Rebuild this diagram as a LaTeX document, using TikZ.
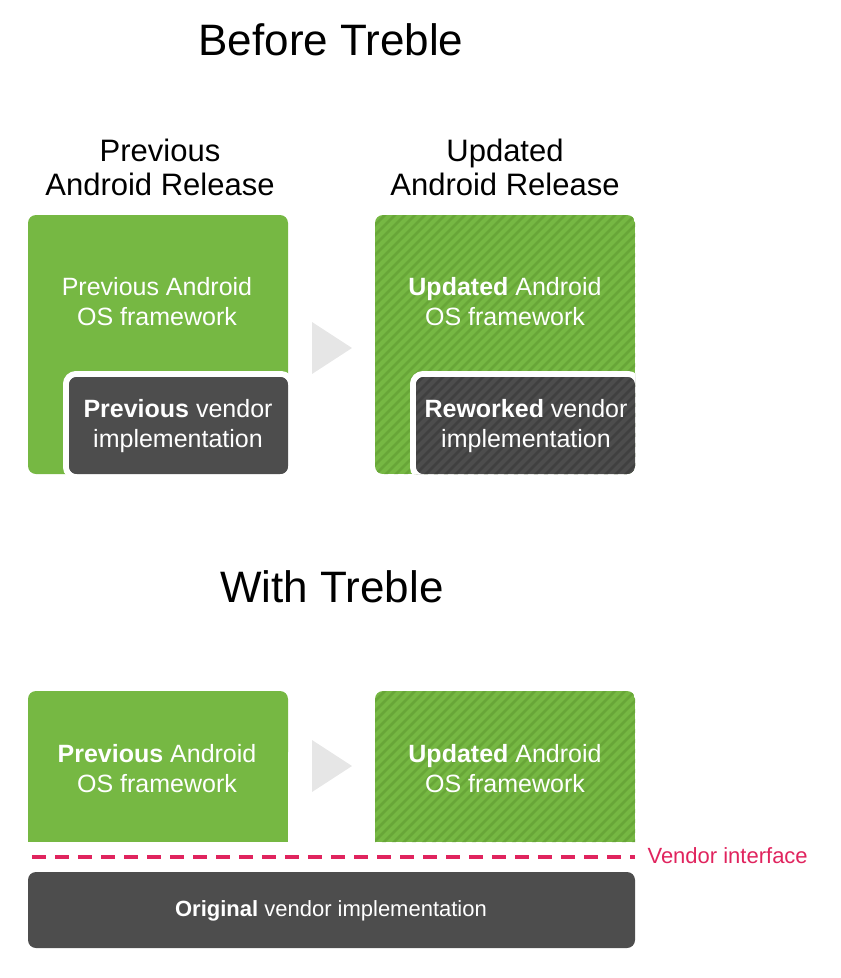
\documentclass[tikz,border=0pt]{standalone}
\usepackage{fontspec}
\setmainfont{Liberation Sans}
\definecolor{andgreen}{HTML}{76B843}
\definecolor{hatchgreen}{HTML}{68A638}
\definecolor{vendgray}{HTML}{4D4D4D}
\definecolor{hatchgray}{HTML}{404040}
\definecolor{arrowgray}{HTML}{E6E6E6}
\definecolor{ifacered}{HTML}{E0245E}
\begin{document}
\begin{tikzpicture}[
    x=1pt, y=-1pt,
    % Text styles:
    title/.style={font=\fontsize{44}{48}\selectfont},
    head/.style={font=\fontsize{31}{34}\selectfont, align=center},
    boxtext/.style={text=white, font=\fontsize{25}{30}\selectfont, align=center},
    % Box styles:
    green box/.style={fill=andgreen},
    vendor box/.style={fill=vendgray, draw=white, line width=6pt},
    step arrow/.style={fill=arrowgray},
]
\useasboundingbox (0,0) rectangle (841,978);

% --- TITLES ---
\node[title] (before) at (331,40) {Before Treble};
\node[title] (with)   at (332,587) {With Treble};
\node[head]  (prevrel) at (160,167) {Previous\\Android Release};
\node[head]  (updrel)  at (505,167) {Updated\\Android Release};

% --- BEFORE: previous release ---
\fill[green box, rounded corners=8] (28,215) rectangle (288,474);
\draw[vendor box, rounded corners=10] (66,374) rectangle (291,477);
\fill[vendgray, rounded corners=8] (69,377) rectangle (288,474);
\node[boxtext] (prevos)   at (157,302) {Previous Android\\OS framework};
\node[boxtext] (prevvend) at (178,426) {\textbf{Previous} vendor\\implementation};

% --- BEFORE: updated release (hatched) ---
\begin{scope}
  \clip[rounded corners=8] (375,215) rectangle (635,474);
  \fill[andgreen] (375,215) rectangle (635,474);
  \foreach \i in {0,...,55}
    \draw[hatchgreen, line width=2.5pt] (375+10*\i,205) -- ++(-290,290);
  \draw[vendor box, rounded corners=10] (413,374) rectangle (638,477);
  \clip[rounded corners=8] (416,377) rectangle (635,474);
  \fill[vendgray] (416,377) rectangle (635,474);
  \foreach \i in {0,...,55}
    \draw[hatchgray, line width=2.5pt] (375+10*\i,205) -- ++(-290,290);
\end{scope}
\node[boxtext] (updos)  at (505,302) {\textbf{Updated} Android\\OS framework};
\node[boxtext] (rework) at (526,426) {\textbf{Reworked} vendor\\implementation};

\fill[step arrow] (312,322) -- (352,348) -- (312,374) -- cycle;

% --- WITH TREBLE ---
\fill[green box, rounded corners=8] (28,691) rectangle (288,760);
\fill[green box] (28,720) rectangle (288,842);
\node[boxtext] (prevfw) at (157,769) {\textbf{Previous} Android\\OS framework};

\begin{scope}
  \clip[rounded corners=8] (375,691) rectangle (635,780) [sharp corners] (375,760) rectangle (635,842);
  \fill[andgreen] (375,691) rectangle (635,842);
  \foreach \i in {0,...,45}
    \draw[hatchgreen, line width=2.5pt] (375+10*\i,681) -- ++(-200,200);
\end{scope}
\node[boxtext] (updfw) at (505,769) {\textbf{Updated} Android\\OS framework};

\fill[step arrow] (312,740) -- (352,766) -- (312,792) -- cycle;

% Vendor interface line
\coordinate (ifl) at (32,857);
\coordinate (ifr) at (635,857);
\draw[ifacered, line width=4.5pt, dash pattern=on 14pt off 9pt] (ifl) -- (ifr);
\node[text=ifacered, font=\fontsize{22}{26}\selectfont, anchor=west] (iface) at (644,856) {Vendor interface};

\fill[vendgray, rounded corners=8] (28,872) rectangle (635,948);
\node[boxtext, font=\fontsize{22}{26}\selectfont] (origvend) at (331,911) {\textbf{Original} vendor implementation};
\end{tikzpicture}
\end{document}
